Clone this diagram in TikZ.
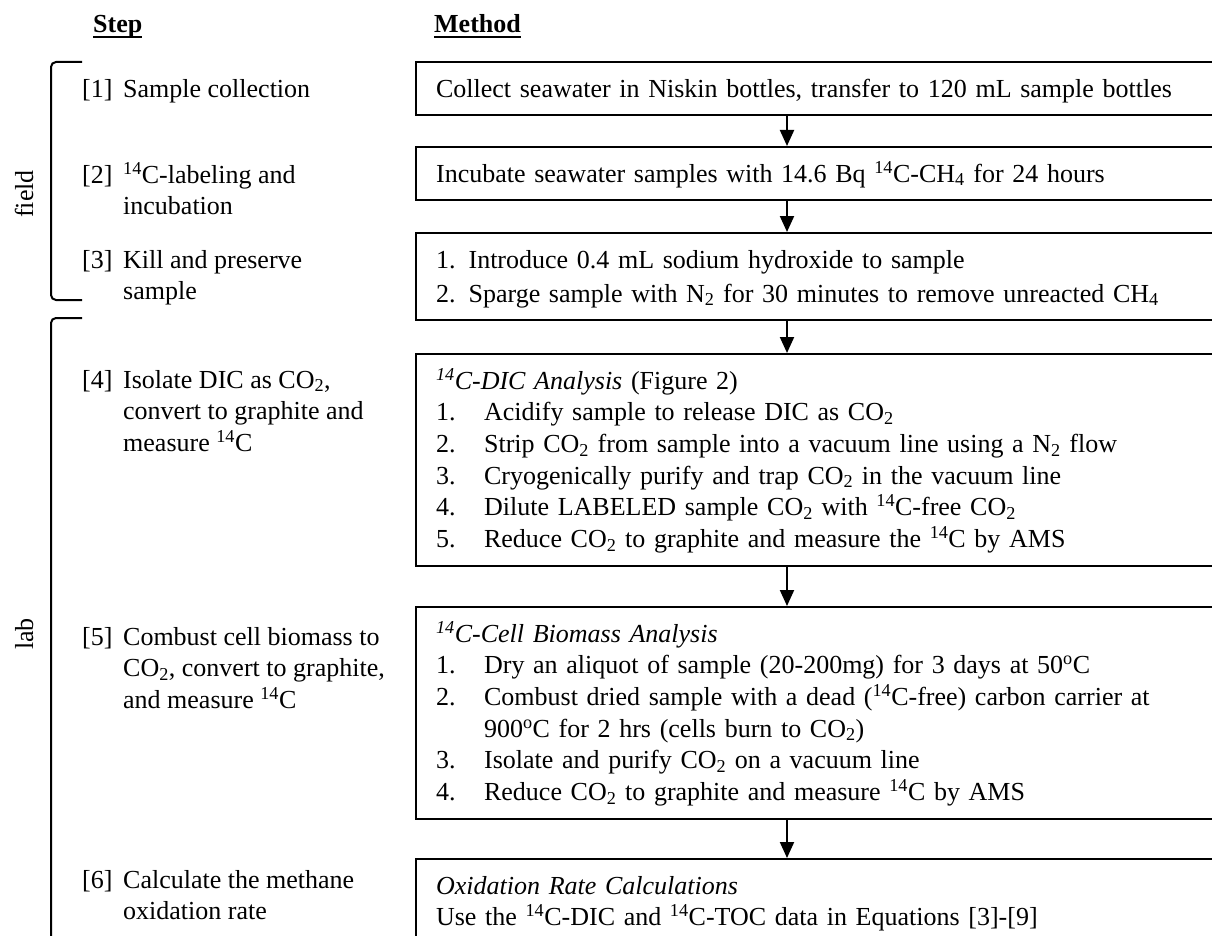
\documentclass[tikz,border=0pt]{standalone}
\usepackage{fontspec}
\setmainfont{Liberation Serif}
\usepackage{tikz}
\usetikzlibrary{arrows.meta}
\setlength{\parindent}{0pt}
\newcommand{\tstrut}{\rule[-8pt]{0pt}{33pt}}
\newcommand{\Cfourteen}{\textsuperscript{14}C}
\newcommand{\COtwo}{CO\textsubscript{2}}
\newcommand{\itemno}[1]{\makebox[48pt][l]{#1}}
\newcommand{\stepno}[1]{\makebox[41pt][l]{#1}}
\newcommand{\headul}[1]{\setbox0\hbox{#1}\rlap{\rule[-5pt]{\wd0}{1.8pt}}\box0}

\begin{document}
\begin{tikzpicture}[x=1pt, y=-1pt,
  font=\fontsize{26pt}{31.7pt}\selectfont,
  methodbox/.style={draw, line width=2.2pt, anchor=north west, text width=790pt,
    inner xsep=20pt, inner ysep=10pt, align=left},
  steplabel/.style={anchor=north west, inner sep=0pt, align=left},
  flowarrow/.style={line width=2pt, -{Triangle[length=16pt, width=14pt]}},
  bracketline/.style={line width=2pt, rounded corners=5pt}]
  \useasboundingbox (0,0) rectangle (1212,936);
  \clip (0,0) rectangle (1212,936);
  % column heads
  \node[anchor=base west, inner sep=0pt] (stephead) at (93,33) {\headul{\textbf{Step}}};
  \node[anchor=base west, inner sep=0pt] (methodhead) at (434,33) {\headul{\textbf{Method}}};
  % field and lab brackets
  \draw[bracketline] (82,62) -- (51,62) -- (51,300) -- (82,300);
  \draw[bracketline] (82,318) -- (51,318) -- (51,960);
  \node[rotate=90, anchor=base, inner sep=0pt] (fieldlabel) at (33,194) {field};
  \node[rotate=90, anchor=base, inner sep=0pt] (lablabel) at (33,634) {lab};
  % steps
  \node[steplabel] (step1) at (82,72) {\tstrut\stepno{[1]}Sample collection};
  \node[steplabel] (step2) at (82,158) {\tstrut\stepno{[2]}\Cfourteen-labeling and\\\stepno{}incubation};
  \node[steplabel] (step3) at (82,243) {\tstrut\stepno{[3]}Kill and preserve\\\stepno{}sample};
  \node[steplabel] (step4) at (82,363) {\tstrut\stepno{[4]}Isolate DIC as \COtwo,\\\stepno{}convert to graphite and\\\stepno{}measure \Cfourteen};
  \node[steplabel] (step5) at (82,620) {\tstrut\stepno{[5]}Combust cell biomass to\\\stepno{}\COtwo, convert to graphite,\\\stepno{}and measure \Cfourteen};
  \node[steplabel] (step6) at (82,863) {\tstrut\stepno{[6]}Calculate the methane\\\stepno{}oxidation rate};
  % methods
  \node[methodbox] (collect) at (415,61) {\tstrut Collect seawater in Niskin bottles, transfer to 120 mL sample bottles\tstrut};
  \node[methodbox] (incubate) at (415,146) {\tstrut Incubate seawater samples with 14.6 Bq \Cfourteen-CH\textsubscript{4} for 24 hours\tstrut};
  \node[methodbox] (preserve) at (415,232) {\tstrut 1. Introduce 0.4 mL sodium hydroxide to sample\\
    2. Sparge sample with N\textsubscript{2} for 30 minutes to remove unreacted CH\textsubscript{4}\tstrut};
  \node[methodbox] (dic) at (415,353) {\tstrut\textit{\Cfourteen-DIC Analysis} (Figure 2)\\
    \itemno{1.}Acidify sample to release DIC as \COtwo\\
    \itemno{2.}Strip \COtwo{} from sample into a vacuum line using a N\textsubscript{2} flow\\
    \itemno{3.}Cryogenically purify and trap \COtwo{} in the vacuum line\\
    \itemno{4.}Dilute LABELED sample \COtwo{} with \Cfourteen-free \COtwo\\
    \itemno{5.}Reduce \COtwo{} to graphite and measure the \Cfourteen{} by AMS\tstrut};
  \node[methodbox] (biomass) at (415,606) {\tstrut\textit{\Cfourteen-Cell Biomass Analysis}\\
    \itemno{1.}Dry an aliquot of sample (20-200mg) for 3 days at 50\textsuperscript{o}C\\
    \itemno{2.}Combust dried sample with a dead (\Cfourteen-free) carbon carrier at\\
    \itemno{}900\textsuperscript{o}C for 2 hrs (cells burn to \COtwo)\\
    \itemno{3.}Isolate and purify \COtwo{} on a vacuum line\\
    \itemno{4.}Reduce \COtwo{} to graphite and measure \Cfourteen{} by AMS\tstrut};
  \node[methodbox] (rate) at (415,858) {\tstrut\textit{Oxidation Rate Calculations}\\
    Use the \Cfourteen-DIC and \Cfourteen-TOC data in Equations [3]-[9]\rule[-70pt]{0pt}{70pt}};
  % arrows down the method column
  \coordinate (spine) at (787,0);
  \draw[flowarrow] (collect.south -| spine) -- (incubate.north -| spine);
  \draw[flowarrow] (incubate.south -| spine) -- (preserve.north -| spine);
  \draw[flowarrow] (preserve.south -| spine) -- (dic.north -| spine);
  \draw[flowarrow] (dic.south -| spine) -- (biomass.north -| spine);
  \draw[flowarrow] (biomass.south -| spine) -- (rate.north -| spine);
\end{tikzpicture}
\end{document}
